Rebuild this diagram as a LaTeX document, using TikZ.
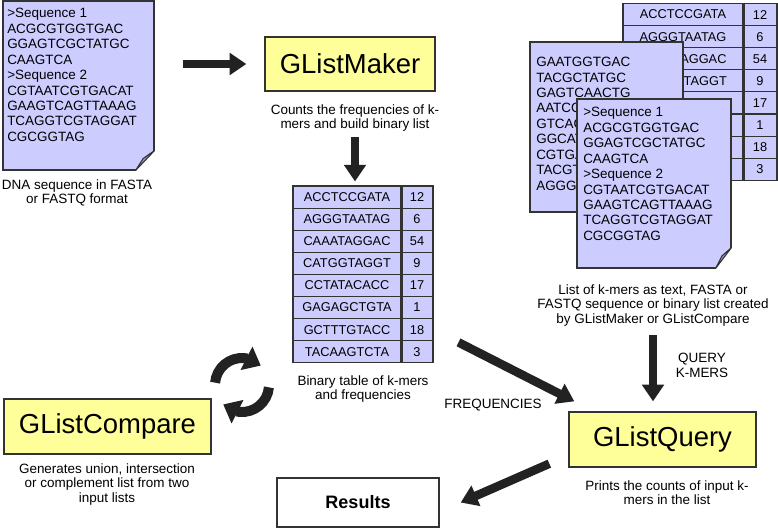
\documentclass[tikz,border=0pt]{standalone}
\usepackage{fontspec}
\setmainfont{Liberation Sans}
\usetikzlibrary{arrows.meta,bending,positioning}

\definecolor{seqblue}{RGB}{204,204,255}
\definecolor{progyellow}{RGB}{255,255,153}
\definecolor{edgegray}{RGB}{51,51,51}
\definecolor{arrowgray}{RGB}{34,34,34}
\definecolor{foldblue}{RGB}{150,150,200}

\newcommand{\capfont}{\fontsize{10.1pt}{11.2pt}\selectfont}
\newcommand{\seqfont}{\fontsize{10.1pt}{11.6pt}\selectfont}
\newcommand{\cellfont}{\fontsize{9.6pt}{11pt}\selectfont}
\newcommand{\titlefont}{\fontsize{20.6pt}{24pt}\selectfont}

% folded corner of a page: node, fold width, fold height (px)
\newcommand{\pagefold}[3]{%
  \fill[white] ([shift={(-#2-1,1)}]#1.south east) -- ([shift={(1,1)}]#1.south east)
    -- ([shift={(1,-#3-1)}]#1.south east) -- cycle;
  \filldraw[fill=foldblue, draw=edgegray, line width=0.8pt, line join=round]
    ([shift={(-#2,0)}]#1.south east) -- ([shift={(0,-#3)}]#1.south east)
    -- ([shift={(-0.6*#2,-0.6*#3)}]#1.south east) -- cycle;
}

\begin{document}
\begin{tikzpicture}[
    x=0.75pt, y=-0.75pt,
    progbox/.style={draw=edgegray, line width=1pt, fill=progyellow, font=\titlefont, inner sep=0pt},
    docpage/.style={draw=edgegray, line width=0.8pt, fill=seqblue, inner sep=0pt},
    doctext/.style={anchor=north west, align=left, inner sep=0pt, font=\seqfont},
    kcell/.style={draw=edgegray, line width=0.8pt, fill=seqblue, minimum height=16.6pt, inner sep=0pt, font=\cellfont},
    caption/.style={anchor=north, align=center, inner sep=0pt, font=\capfont},
    bigarrow/.style={draw=arrowgray, line width=6.5pt, -{Triangle[width=16pt,length=12.5pt]}},
    roundarrow/.style={draw=arrowgray, line width=7.5pt, -{Triangle[width=19pt,length=12pt]}}
  ]
  \useasboundingbox (0,0) rectangle (778,529);

  % Entrada: secuencia en FASTA
  \node[docpage, minimum width=113.25pt, minimum height=126.75pt] (fasta) at (78.5,85.5) {};
  \pagefold{fasta}{19}{20}
  \node[doctext] (fastatxt) at (7,8) {>Sequence 1\\ACGCGTGGTGAC\\GGAGTCGCTATGC\\CAAGTCA\\>Sequence 2\\CGTAATCGTGACAT\\GAAGTCAGTTAAAG\\TCAGGTCGTAGGAT\\CGCGGTAG};
  \node[caption] (fastacap) at (77,179) {DNA sequence in FASTA\\or FASTQ format};

  % GListMaker
  \node[progbox, minimum width=127.5pt, minimum height=40.5pt] (maker) at (350,64) {GListMaker};
  \node[caption] (makercap) at (355,104) {Counts the frequencies of k-\\mers and build binary list};

  % Tabla binaria de k-mers
  \foreach \kmer/\freq [count=\i] in {ACCTCCGATA/12, AGGGTAATAG/6, CAAATAGGAC/54, CATGGTAGGT/9, CCTATACACC/17, GAGAGCTGTA/1, GCTTTGTACC/18, TACAAGTCTA/3} {
    \node[kcell, minimum width=81pt] (k\i) at (347,174.95+22.1*\i) {\kmer};
    \node[kcell, minimum width=24pt] (f\i) at (417,174.95+22.1*\i) {\freq};
  }
  \draw[edgegray, line width=1.8pt] (k1.north east) -- (k8.south east);
  \node[caption] (tablecap) at (363,375) {Binary table of k-mers\\and frequencies};

  % Pila de entradas para la consulta (las filas tapadas quedan sin texto)
  \foreach \kmer/\freq [count=\i] in {ACCTCCGATA/12, AGGGTAATAG/6, CAAATAGGAC/54, CATGGTAGGT/9, CCTATACACC/17, {}/1, {}/18, {}/3} {
    \node[kcell, minimum width=90pt] (bk\i) at (683,-7.55+22.1*\i) {\kmer};
    \node[kcell, minimum width=25.5pt] (bf\i) at (760,-7.55+22.1*\i) {\freq};
  }
  \draw[edgegray, line width=1.8pt] (bk1.north east) -- (bk8.south east);
  \node[docpage, minimum width=114.75pt, minimum height=127.5pt] (kmerlist) at (606.5,127) {};
  \node[doctext] (kmertxt) at (536,57) {GAATGGTGAC\\TACGCTATGC\\GAGTCAACTG};
  \node[doctext] (kmertxt2) at (536,103.2) {AATCC\\GTCAG\\GGCAT\\CGTGA\\TACGT\\AGGGT};
  \node[docpage, minimum width=115.5pt, minimum height=126.75pt] (query-seq) at (654,183.5) {};
  \pagefold{query-seq}{16}{21}
  \node[doctext] (queryseqtxt) at (583,107) {>Sequence 1\\ACGCGTGGTGAC\\GGAGTCGCTATGC\\CAAGTCA\\>Sequence 2\\CGTAATCGTGACAT\\GAAGTCAGTTAAAG\\TCAGGTCGTAGGAT\\CGCGGTAG};
  \node[caption] (listcap) at (653,284) {List of k-mers as text, FASTA or\\FASTQ sequence or binary list created\\by GListMaker or GListCompare};

  % GListCompare y GListQuery
  \node[progbox, minimum width=155.25pt, minimum height=41.25pt] (compare) at (107.5,426.5) {GListCompare};
  \node[caption] (comparecap) at (107,463) {Generates union, intersection\\or complement list from two\\input lists};
  \node[progbox, minimum width=140.25pt, minimum height=41.25pt] (query) at (662.5,439.5) {GListQuery};
  \node[caption] (querycap) at (667,480) {Prints the counts of input k-\\mers in the list};

  % Resultados
  \node[draw=edgegray, line width=1pt, fill=white, minimum width=121.5pt, minimum height=36.75pt,
        font=\bfseries\fontsize{13.5pt}{16pt}\selectfont] (results) at (358,502.5) {Results};

  % Etiquetas de las flechas
  \node[font=\capfont, inner sep=0pt] (freqlabel) at (493,405) {FREQUENCIES};
  \node[caption] (querylabel) at (702,353) {QUERY\\K-MERS};

  % Flechas
  \draw[bigarrow, shorten <=21pt, shorten >=13.5pt] (fasta.east |- maker.west) -- (maker.west);
  \draw[bigarrow, shorten <=4pt, shorten >=3pt] (makercap.south) -- (makercap.south |- k1.north);
  \draw[bigarrow, shorten <=6pt, shorten >=7.5pt] (listcap.south) -- (listcap.south |- query.north);
  \draw[bigarrow, shorten <=21pt] (f7.east) -- ([shift={(6,-10)}]query.north west);
  \draw[bigarrow] ([shift={(-19,-4)}]query.south west) -- ([shift={(21,0)}]results.east);

  % Flechas circulares entre la tabla y GListCompare
  \coordinate (cycle) at (242,385);
  \draw[roundarrow] ([shift={(185:27)}]cycle) arc[start angle=185, end angle=314, radius=27];
  \draw[roundarrow] ([shift={(5:27)}]cycle) arc[start angle=5, end angle=134, radius=27];
\end{tikzpicture}
\end{document}
